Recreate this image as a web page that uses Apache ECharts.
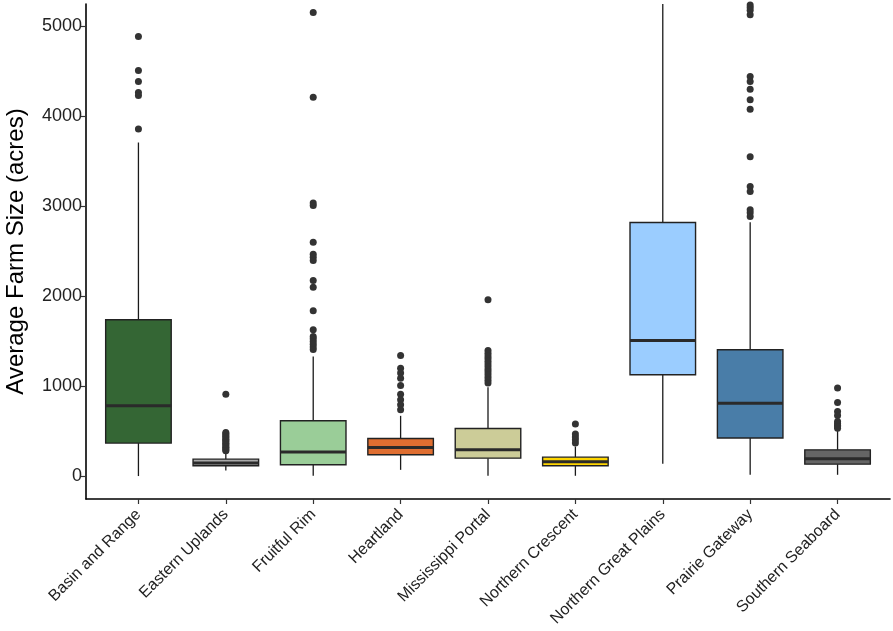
<!DOCTYPE html>
<html>
<head>
<meta charset="utf-8">
<style>
  html, body { margin: 0; padding: 0; background: #fff; }
  #main { width: 893px; height: 631px; }
</style>
<script src="https://cdn.jsdelivr.net/npm/echarts@6/dist/echarts.min.js"></script>
</head>
<body>
<div id="main"></div>
<script>
// regions (x axis)
var categories = ['Basin and Range', 'Eastern Uplands', 'Fruitful Rim', 'Heartland',
  'Mississippi Portal', 'Northern Crescent', 'Northern Great Plains', 'Prairie Gateway', 'Southern Seaboard'];

// box stats (acres)
var lowWhisker  = [5, 67, 8, 74, 8, 8, 141, 19, 19];
var q1          = [371, 119, 130, 241, 204, 119, 1130, 427, 137];
var medians     = [786, 149, 271, 322, 297, 163, 1511, 815, 196];
var q3          = [1741, 193, 619, 422, 533, 215, 2822, 1408, 296];
var highWhisker = [3711, 271, 1333, 674, 993, 333, 5250, 2826, 507];

// outliers per region
var outliers = [
  [4889, 4511, 4389, 4267, 4233, 3860],
  [915, 490, 475, 460, 445, 430, 415, 400, 385, 370, 355, 340, 325, 310, 295, 285],
  [5156, 4215, 3040, 3010, 2604, 2470, 2437, 2400, 2178, 2104, 1841, 1630, 1556, 1530, 1500, 1470, 1440, 1410],
  [1344, 1204, 1149, 1093, 1011, 915, 852, 796, 741],
  [1963, 1400, 1370, 1340, 1310, 1280, 1250, 1220, 1190, 1160, 1130, 1100, 1070, 1040],
  [582, 471, 440, 408, 371],
  [],
  [5240, 5210, 5180, 5130, 4444, 4389, 4304, 4185, 4081, 3552, 3222, 3167, 2963, 2930, 2889],
  [982, 822, 722, 678, 611, 590, 570, 555, 537]
];

// y ticks
var yTicks = [0, 1000, 2000, 3000, 4000, 5000];

var fills = ['#346634', '#aaaaaa', '#9acd98', '#df6e31', '#cccc98', '#ffd600', '#9bcdff', '#497da8', '#656565'];

var boxRows = categories.map(function (c, i) {
  return [i, lowWhisker[i], q1[i], medians[i], q3[i], highWhisker[i]];
});
var outlierPts = [];
outliers.forEach(function (list, i) {
  list.forEach(function (v) { outlierPts.push([i, v]); });
});
var catIdx = categories.map(function (c, i) { return i; });

var chart = echarts.init(document.getElementById('main'));

var option = {
  animation: false,
  textStyle: { fontFamily: 'Liberation Sans, Arial, sans-serif' },
  grid: { left: 86, right: 3, top: 4, bottom: 132, outerBoundsMode: 'none', containLabel: false },
  xAxis: {
    type: 'value',
    min: -0.6,
    max: 8.6,
    splitLine: { show: false },
    axisLine: { onZero: false, lineStyle: { color: '#000', width: 1.6 } },
    axisTick: { customValues: catIdx, length: 5, lineStyle: { color: '#333', width: 1.2 } },
    axisLabel: {
      customValues: catIdx,
      rotate: 45,
      margin: 13,
      fontSize: 16,
      color: '#222',
      formatter: function (v) { return categories[Math.round(v)]; }
    }
  },
  yAxis: {
    type: 'value',
    min: -250,
    max: 5250,
    name: 'Average Farm Size (acres)',
    nameLocation: 'middle',
    nameGap: 58,
    nameTextStyle: { fontSize: 24, color: '#000' },
    splitLine: { show: false },
    axisLine: { show: true, onZero: false, lineStyle: { color: '#000', width: 1.6 } },
    axisTick: { show: true, customValues: yTicks, length: 5, lineStyle: { color: '#333', width: 1.2 } },
    axisLabel: {
      customValues: yTicks,
      fontSize: 18,
      color: '#222',
      margin: 4,
      formatter: function (v) { return String(v); }
    }
  },
  series: [
    {
      type: 'custom',
      data: boxRows,
      encode: { x: 0, y: [1, 2, 3, 4, 5] },
      renderItem: function (params, api) {
        var x = api.value(0);
        var lo = api.coord([x, api.value(1)]);
        var b1 = api.coord([x, api.value(2)]);
        var md = api.coord([x, api.value(3)]);
        var b3 = api.coord([x, api.value(4)]);
        var hi = api.coord([x, api.value(5)]);
        var w = api.size([0.75, 0])[0];
        var left = lo[0] - w / 2;
        var lineStyle = { stroke: '#1a1a1a', lineWidth: 1.3 };
        return {
          type: 'group',
          children: [
            { type: 'line', shape: { x1: lo[0], y1: lo[1], x2: b1[0], y2: b1[1] }, style: lineStyle },
            { type: 'line', shape: { x1: b3[0], y1: b3[1], x2: hi[0], y2: hi[1] }, style: lineStyle },
            {
              type: 'rect',
              shape: { x: left, y: b3[1], width: w, height: b1[1] - b3[1] },
              style: { fill: fills[params.dataIndex], stroke: '#222', lineWidth: 1.4 }
            },
            {
              type: 'line',
              shape: { x1: left, y1: md[1], x2: left + w, y2: md[1] },
              style: { stroke: '#2a2a2a', lineWidth: 3 }
            }
          ]
        };
      }
    },
    {
      type: 'scatter',
      data: outlierPts,
      symbolSize: 7,
      itemStyle: { color: '#333', opacity: 1 },
      z: 3
    }
  ]
};

chart.setOption(option);
</script>
</body>
</html>
